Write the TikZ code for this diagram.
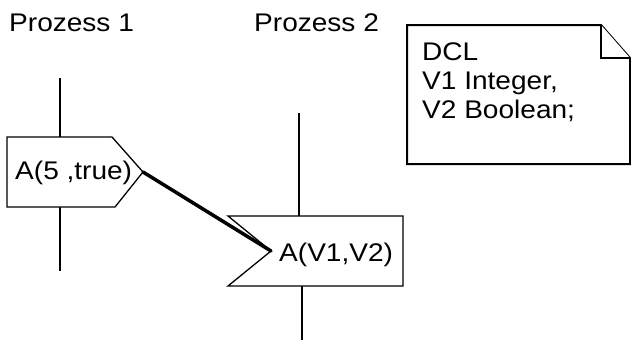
\documentclass[tikz,border=0pt]{standalone}
\usepackage{fontspec}
\setmainfont{Liberation Sans}[FakeStretch=1.1]
\begin{document}
\begin{tikzpicture}[x=1pt,y=-1pt,
  lbl/.style={anchor=base west,inner sep=0pt,font=\fontsize{25.5}{28.7}\selectfont},
  outline/.style={draw=black,line width=1.3pt,fill=white,line join=miter},
  lifeline/.style={draw=black,line width=1.3pt},
  notebox/.style={draw=black,line width=2pt,fill=white,line join=miter},
  signal/.style={draw=black,line width=3.5pt,line cap=round}]
\useasboundingbox (0,0) rectangle (631,340);

% process headers
\node[lbl] (p1) at (9,31) {Prozess 1};
\node[lbl] (p2) at (254,31) {Prozess 2};

% corner coordinates
\coordinate (s1) at (7,137);
\coordinate (s2) at (112,137);
\coordinate (stip) at (143,172);
\coordinate (s4) at (115,207);
\coordinate (s5) at (7,207);
\coordinate (r1) at (228,216);
\coordinate (r2) at (403,216);
\coordinate (r3) at (403,286);
\coordinate (r4) at (228,286);
\coordinate (rtip) at (271,251);

% lifelines
\coordinate (l1a) at (60,78);
\coordinate (l1b) at (60,137);
\coordinate (l1c) at (60,207);
\coordinate (l1d) at (60,271);
\coordinate (l2a) at (299,113);
\coordinate (l2b) at (299,216);
\coordinate (l2c) at (302,286);
\coordinate (l2d) at (302,340);
\draw[lifeline] (l1a) -- (l1b);
\draw[lifeline] (l1c) -- (l1d);
\draw[lifeline] (l2a) -- (l2b);
\draw[lifeline] (l2c) -- (l2d);

% send signal
\draw[outline] (s1) -- (s2) -- (stip) -- (s4) -- (s5) -- cycle;
\node[lbl] (send) at (15,179) {A(5 ,true)};

% receive signal
\draw[outline] (r1) -- (r2) -- (r3) -- (r4) -- (rtip) -- cycle;
\node[lbl] (recv) at (279,261) {A(V1,V2)};

% signal connector
\draw[signal] (stip) -- (rtip);

% declaration note
\coordinate (n1) at (407,25);
\coordinate (n2) at (601,25);
\coordinate (n3) at (630,58);
\coordinate (n4) at (630,164);
\coordinate (n5) at (407,164);
\coordinate (nf) at (601,58);
\draw[notebox] (n1) -- (n2) -- (n3) -- (n4) -- (n5) -- cycle;
\draw[notebox] (n2) -- (nf) -- (n3);
\node[lbl] (dcl1) at (422,60.7) {DCL};
\node[lbl] (dcl2) at (422,89.4) {V1 Integer,};
\node[lbl] (dcl3) at (422,118) {V2 Boolean;};
\end{tikzpicture}
\end{document}
